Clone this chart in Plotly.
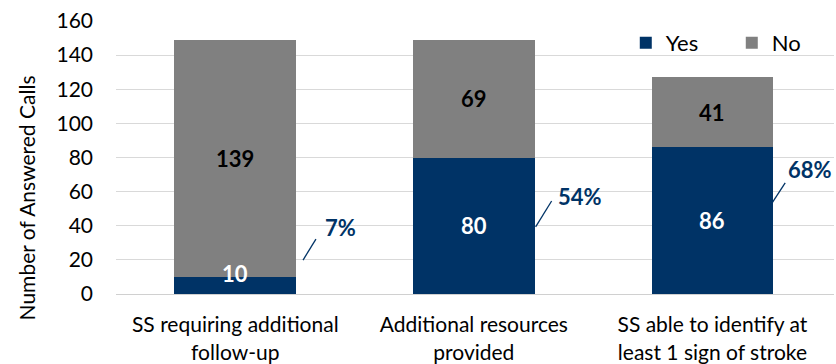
import plotly.graph_objects as go

categories = ["SS requiring additional<br>follow-up", "Additional resources<br>provided", "SS able to identify at<br>least 1 sign of stroke"]
yes_values = [10, 80, 86]
no_values = [139, 69, 41]
y_ticks = [0, 20, 40, 60, 80, 100, 120, 140, 160]

# label / leader-line placement (positions only, not data)
pct_text_dx = [0.443, 0.443, 0.409]
pct_text_y = [38.7, 57.4, 72.7]
leader_x0 = [0.284, 0.259, 0.242]
leader_x1 = [0.338, 0.326, 0.305]
leader_y0 = [19.9, 39.3, 51.6]
leader_y1 = [32.2, 54.5, 65.1]

BLUE = "#003366"
GRAY = "#808080"
FONT = "Lato, Calibri, Carlito, sans-serif"
FS = 21

fig = go.Figure()
fig.add_trace(go.Bar(x=categories, y=yes_values, name="Yes", marker_color=BLUE, marker_line_width=0))
fig.add_trace(go.Bar(x=categories, y=no_values, name="No", marker_color=GRAY, marker_line_width=0))

annotations = []
shapes = []
for i, (yv, nv) in enumerate(zip(yes_values, no_values)):
    annotations.append(dict(x=i, y=yv / 2, text=f"<b>{yv}</b>", showarrow=False,
                            font=dict(family=FONT, size=FS + 1, color="white"),
                            yshift=12 if yv < 20 else 0))
    annotations.append(dict(x=i, y=yv + nv / 2, text=f"<b>{nv}</b>", showarrow=False,
                            font=dict(family=FONT, size=FS + 1, color="black")))
    pct = round(100 * yv / (yv + nv))
    annotations.append(dict(x=i + pct_text_dx[i], y=pct_text_y[i], text=f"<b>{pct}%</b>", showarrow=False,
                            font=dict(family=FONT, size=FS + 1, color=BLUE)))
    shapes.append(dict(type="line", xref="x", yref="y",
                       x0=i + leader_x0[i], x1=i + leader_x1[i], y0=leader_y0[i], y1=leader_y1[i],
                       line=dict(color=BLUE, width=1.3)))

annotations.append(dict(xref="paper", yref="paper", x=-0.125, y=0.351, text="Number of Answered Calls",
                        textangle=-90, showarrow=False, xanchor="center", yanchor="middle",
                        font=dict(family=FONT, size=FS, color="black")))

fig.update_layout(
    barmode="stack",
    bargap=0.49,
    width=836, height=364,
    margin=dict(l=116, r=2, t=21, b=70, autoexpand=False),
    paper_bgcolor="white", plot_bgcolor="white",
    font=dict(family=FONT, size=FS, color="black"),
    showlegend=True,
    legend=dict(orientation="h", x=0.71, y=0.92, xanchor="left", yanchor="middle",
                bgcolor="rgba(0,0,0,0)", font=dict(family=FONT, size=FS + 1, color="black"),
                entrywidth=61, entrywidthmode="pixels", traceorder="normal"),
    annotations=annotations,
    shapes=shapes,
)
fig.update_yaxes(range=[0, 160], tickvals=y_ticks, showgrid=True, gridcolor="#d9d9d9", gridwidth=1.3,
                 zeroline=False, showline=False, ticks="", ticklabelstandoff=22, automargin=False,
                 tickfont=dict(family=FONT, size=FS, color="black"))
fig.update_xaxes(showline=True, linecolor="#d0d0d0", linewidth=1.3, ticks="", tickangle=0, automargin=False,
                 tickfont=dict(family=FONT, size=FS, color="black"), ticklabelstandoff=12)

fig.write_html("out.html")
